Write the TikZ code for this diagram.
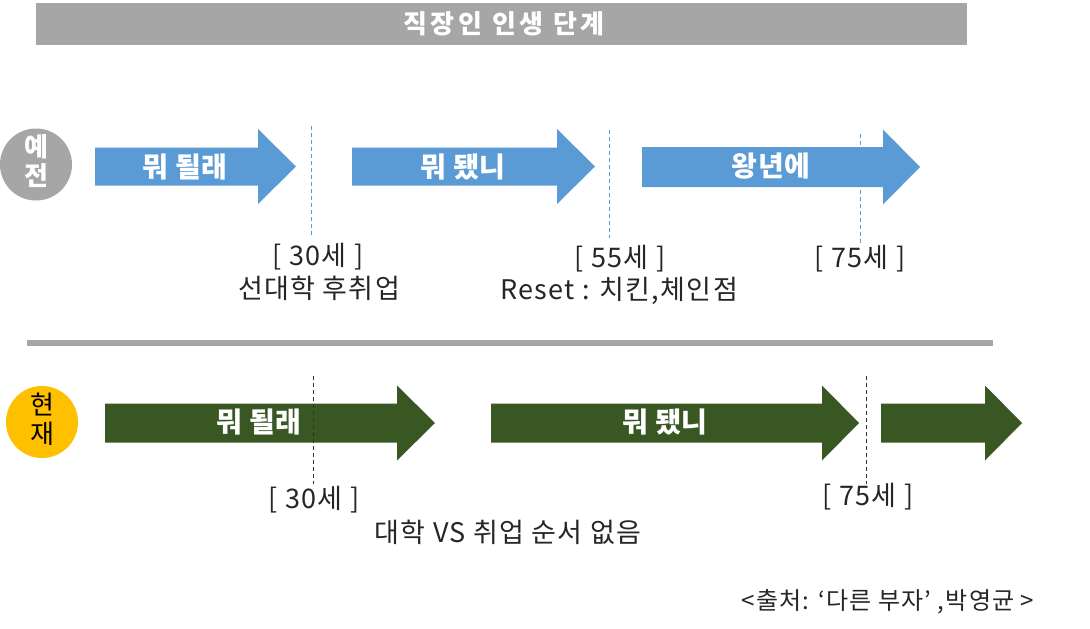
\documentclass[tikz,border=0pt]{standalone}
\usepackage{fontspec}
\setmainfont{Noto Sans CJK KR}
\newfontfamily\kr{Noto Sans CJK KR}
\newfontfamily\krsp[LetterSpace=5]{Noto Sans CJK KR}
\newfontfamily\krtitle[LetterSpace=14]{Noto Sans CJK KR}
\newfontfamily\krarr[LetterSpace=3]{Noto Sans CJK KR}
\definecolor{barGray}{HTML}{A6A6A6}
\definecolor{skyBlue}{HTML}{5B9BD5}
\definecolor{darkGreen}{HTML}{385723}
\definecolor{goldY}{HTML}{FFC000}
\definecolor{txt}{HTML}{262626}
\newcommand\myarrow[6]{%
  \fill[#1] (#2,#5-#6) -- (#3,#5-#6) -- (#3,#5-37.5) -- (#4,#5) -- (#3,#5+37.5) -- (#3,#5+#6) -- (#2,#5+#6) -- cycle;}
\begin{document}
\begin{tikzpicture}[x=1pt,y=-1pt,
  lbl/.style={font=\krsp\fontsize{27}{30}\selectfont, text=txt, inner sep=0pt},
  arrlbl/.style={font=\krarr\bfseries\fontsize{28}{30}\selectfont, text=white, inner sep=0pt},
  vline/.style={line width=0.9pt, dash pattern=on 4pt off 3pt}]
\useasboundingbox (0,0) rectangle (1090,629);
\fill[white] (0,0) rectangle (1090,629);
% title
\fill[barGray] (36,3) rectangle (967,45);
\node[font=\krtitle\bfseries\fontsize{26}{28}\selectfont, text=white, inner sep=0pt] (title) at (504,24) {직장인 인생 단계};
% top row
\fill[barGray] (36,164.5) circle (36);
\node[font=\kr\bfseries\fontsize{26}{29}\selectfont, text=white, align=center, inner sep=0pt] (ye) at (36,161) {예\\전};
\myarrow{skyBlue}{95}{258}{296}{166.5}{19}
\myarrow{skyBlue}{352}{557}{595}{166.5}{19}
\myarrow{skyBlue}{642}{883}{920}{167}{20}
\node[arrlbl] (a1) at (185,167) {뭐 될래};
\node[arrlbl] (a2) at (463,167) {뭐 됐니};
\node[arrlbl] (a3) at (771,166) {왕년에};
\draw[vline, skyBlue] (311,126) -- (311,235);
\draw[vline, skyBlue] (609,130) -- (609,238);
\draw[vline, skyBlue] (860,134) -- (860,243);
\node[lbl] (t30) at (318,257) {[ 30세 ]};
\node[lbl] (t30b) at (319,288) {선대학 후취업};
\node[lbl] (t55) at (620,259) {[ 55세 ]};
\node[lbl] (t55b) at (619,291) {Reset : 치킨,체인점};
\node[lbl] (t75) at (860,259) {[ 75세 ]};
% separator
\fill[barGray] (27,340) rectangle (993,346);
% bottom row
\fill[goldY] (42,422) circle (36);
\node[font=\kr\fontsize{26}{29}\selectfont, text=black, align=center, inner sep=0pt] (hy) at (42,419) {현\\재};
\myarrow{darkGreen}{105}{397}{435}{423}{19.5}
\myarrow{darkGreen}{491}{822}{859}{423}{19.5}
\myarrow{darkGreen}{881}{985}{1022}{423}{19.5}
\draw[vline, darkGreen!70!black] (313,376) -- (313,484);
\draw[vline, darkGreen!70!black] (866,376) -- (866,484);
\node[arrlbl] (b1) at (259,422) {뭐 될래};
\node[arrlbl] (b2) at (665,422) {뭐 됐니};
\node[lbl] (u30) at (314,500) {[ 30세 ]};
\node[lbl] (u75) at (868,497) {[ 75세 ]};
\node[lbl] (ub) at (508,532) {대학 VS 취업 순서 없음};
\node[font=\krsp\fontsize{24}{26}\selectfont, text=txt, inner sep=0pt] (src) at (888,602) {<출처: ‘다른 부자’ ,박영균 >};
\end{tikzpicture}
\end{document}
